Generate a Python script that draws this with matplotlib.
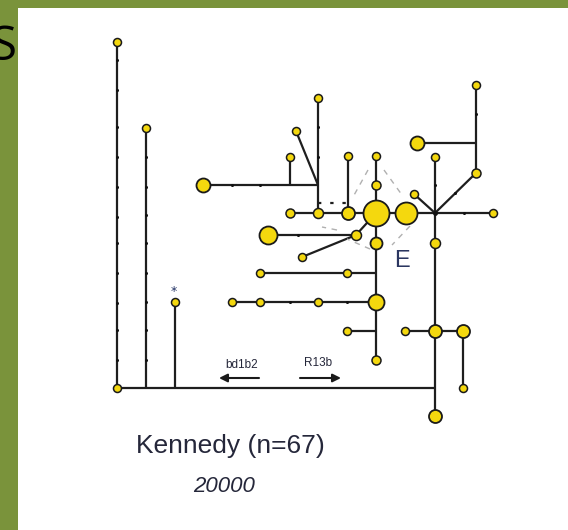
import matplotlib
matplotlib.use("Agg")
import matplotlib.pyplot as plt
from matplotlib.patches import Rectangle

# ---- data (pixel-space layout of the haplotype network) ----
node_x = [117, 117, 146, 175, 435, 406, 414, 476, 493, 476, 417, 376, 376, 376, 376,
          347, 260, 232, 260, 318, 376, 347, 376, 405, 435, 463, 463, 435, 435,
          348, 318, 290, 348, 318, 203, 290, 296, 268, 356, 302]
node_y = [42, 388, 128, 302, 157, 213, 194, 173, 213, 85, 143, 213, 185, 156, 243,
          273, 273, 302, 302, 302, 302, 331, 360, 331, 331, 331, 388, 416, 243,
          213, 213, 213, 156, 98, 185, 157, 131, 235, 235, 257]
node_r = [4, 4, 4, 4, 4, 11, 4, 4.5, 4, 4, 7, 13, 4.5, 4, 6,
          4, 4, 4, 4, 4, 8, 4, 4.5, 4, 6.5, 6.5, 4, 6.5, 5,
          6.5, 5, 4.5, 4, 4, 7, 4, 4, 9, 5, 4]

edges = [((117, 42), (117, 388)), ((146, 128), (146, 388)), ((175, 302), (175, 388)),
         ((117, 388), (435, 388)), ((435, 157), (435, 416)), ((435, 213), (406, 213)),
         ((435, 213), (414, 194)), ((435, 213), (476, 173)), ((435, 213), (493, 213)),
         ((476, 173), (476, 85)), ((476, 143), (417, 143)), ((376, 213), (406, 213)),
         ((376, 156), (376, 213)), ((376, 213), (376, 360)), ((260, 273), (376, 273)),
         ((232, 302), (376, 302)), ((347, 331), (376, 331)), ((405, 331), (463, 331)),
         ((463, 331), (463, 388)), ((290, 213), (376, 213)), ((348, 156), (348, 213)),
         ((318, 98), (318, 213)), ((203, 185), (318, 185)), ((290, 157), (290, 185)),
         ((296, 131), (318, 185)), ((268, 235), (356, 235)), ((356, 235), (376, 213)),
         ((302, 257), (356, 235))]

tick_x = [117] * 11 + [146] * 8 + [232, 260, 318, 318, 476, 435, 464, 455, 290, 347, 298]
tick_y = [60, 90, 127, 157, 187, 217, 243, 273, 303, 330, 360,
          157, 187, 215, 243, 273, 302, 330, 360,
          185, 185, 127, 157, 114, 185, 213, 193, 302, 302, 235]

dashed_segments = [((368, 170), (353, 197)), ((384, 170), (402, 195)),
                   ((410, 226), (392, 245)), ((370, 249), (347, 239)),
                   ((337, 230), (322, 227))]

W, H = 568, 530
fig = plt.figure(figsize=(W / 100, H / 100), dpi=100)
fig.patch.set_facecolor("#7a933b")
ax = fig.add_axes([0, 0, 1, 1])
ax.set_xlim(0, W)
ax.set_ylim(H, 0)
ax.axis("off")
ax.patch.set_alpha(0)

ax.add_patch(Rectangle((18, 8), W - 18, H - 8, facecolor="white", edgecolor="none", zorder=0))

# cut-off heading letter on the left
ax.text(17, 47, "S", fontsize=34, family="Open Sans", color="black",
        ha="right", va="center", zorder=1)

line_col = "#1e1e1e"
for (x0, y0), (x1, y1) in edges:
    ax.plot([x0, x1], [y0, y1], color=line_col, lw=1.6, solid_capstyle="butt", zorder=2)

# dotted connection
ax.plot([318, 348], [203, 203], color=line_col, lw=1.6, ls=(0, (1.5, 4)), zorder=2)

# dashed grey loop around the central haplotype
for (x0, y0), (x1, y1) in dashed_segments:
    ax.plot([x0, x1], [y0, y1], color="#b0b0b0", lw=1.0, ls=(0, (4, 4)), zorder=2)

# mutation ticks
ax.plot(tick_x, tick_y, "o", color="#111111", ms=2.2, mew=0, zorder=3)
# hub point
ax.plot([435], [213], "o", color="#111111", ms=3.5, mew=0, zorder=3)

for x, y, r in zip(node_x, node_y, node_r):
    ax.plot([x], [y], "o", ms=2 * r * 0.72, mfc="#f4d80e", mec="#1a1a1a",
            mew=1.3 if r > 5 else 1.1, zorder=4)

txt_col = "#25273a"
ax.text(174, 291, "*", fontsize=9, color="#223366", ha="center", va="center", zorder=5)
ax.text(402, 261, "E", fontsize=17, family="Liberation Sans", color="#2b3660",
        ha="center", va="center", zorder=5)
ax.text(242, 365, "bd1b2", fontsize=8.5, family="Liberation Sans", color=txt_col,
        ha="center", va="center", zorder=5)
ax.text(318, 363, "R13b", fontsize=8.5, family="Liberation Sans", color=txt_col,
        ha="center", va="center", zorder=5)
ax.annotate("", xy=(219, 378), xytext=(259, 378),
            arrowprops=dict(arrowstyle="-|>", color="#1a1a1a", lw=1.5,
                            mutation_scale=12, shrinkA=0, shrinkB=0), zorder=5)
ax.annotate("", xy=(341, 378), xytext=(300, 378),
            arrowprops=dict(arrowstyle="-|>", color="#1a1a1a", lw=1.5,
                            mutation_scale=12, shrinkA=0, shrinkB=0), zorder=5)

ax.text(230, 446, "Kennedy (n=67)", fontsize=19, family="Liberation Sans",
        color=txt_col, ha="center", va="center", zorder=5)
ax.text(224, 486, "20000", fontsize=16, family="Liberation Sans", style="italic",
        color=txt_col, ha="center", va="center", zorder=5)

fig.savefig("out.png", dpi=100, facecolor=fig.get_facecolor())
